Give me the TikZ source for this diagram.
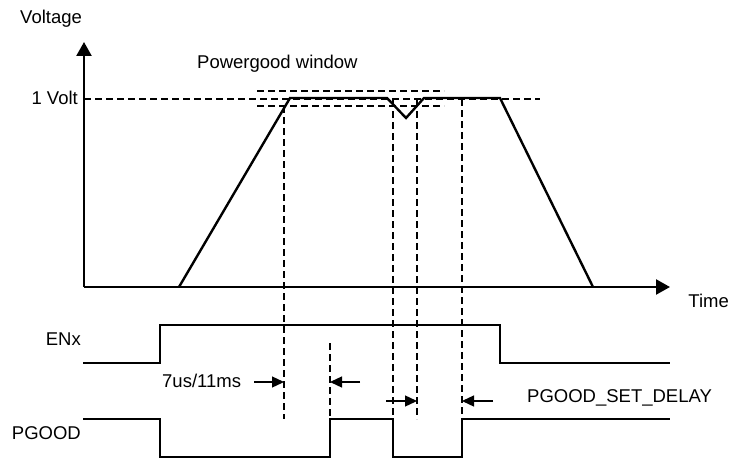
\documentclass[tikz,border=0pt]{standalone}
\usepackage{fontspec}
\setmainfont{Liberation Sans}
\usetikzlibrary{arrows.meta}
\begin{document}
\begin{tikzpicture}[x=1pt,y=-1pt,
  wave/.style={line width=2.4pt,line join=miter},
  axis/.style={line width=2.4pt,-{Triangle[length=14pt,width=15pt]}},
  guide/.style={line width=1.2pt,dash pattern=on 7pt off 4pt},
  tarrow/.style={line width=1.3pt,-{Triangle[length=12pt,width=11pt]}},
  lbl/.style={inner sep=0pt,font=\fontsize{18.5}{22}\selectfont}]
\useasboundingbox (0,0) rectangle (731,460);
% axes
\coordinate (O) at (84,287);
\coordinate (Ytip) at (84,42);
\coordinate (Xtip) at (670,287);
\draw[axis] (O) -- (Ytip);
\draw[axis] (O) -- (Xtip);
% labels
\node[lbl,anchor=base west] (voltage) at (20,24) {Voltage};
\node[lbl,anchor=base west] (pgw) at (197,69) {Powergood window};
\node[lbl,anchor=base east] (volt) at (78,104) {1 Volt};
\node[lbl,anchor=base east] (time) at (729,307) {Time};
\node[lbl,anchor=base east] (enx) at (81,345) {ENx};
\node[lbl,anchor=base east] (pgood) at (81,439) {PGOOD};
\node[lbl,anchor=base west] (t1) at (162,387) {7us/11ms};
\node[lbl,anchor=base west] (t2) at (527,402) {PGOOD\_SET\_DELAY};
% guide lines
\draw[guide] (84,99) -- (540,99);
\draw[guide] (257,91) -- (444,91);
\draw[guide] (257,106) -- (444,106);
\draw[guide] (284,106) -- (284,419);
\draw[guide] (330,343) -- (330,419);
\draw[guide] (393,100) -- (393,419);
\draw[guide] (417,100) -- (417,419);
\draw[guide] (462,99) -- (462,419);
% voltage waveform
\draw[wave] (179,287) -- (290,98) -- (387,98) -- (406,118) -- (424,98) -- (500,98) -- (593,287);
% ENx
\draw[wave] (83,363) -- (160,363) -- (160,325) -- (500,325) -- (500,363) -- (670,363);
% PGOOD
\draw[wave] (83,419) -- (160,419) -- (160,457) -- (330,457) -- (330,419) -- (393,419) -- (393,457) -- (462,457) -- (462,419) -- (670,419);
% timing arrows
\coordinate (a1s) at (254,382); \coordinate (a1e) at (284,382);
\coordinate (a2s) at (360,382); \coordinate (a2e) at (330,382);
\coordinate (a3s) at (386,401); \coordinate (a3e) at (417,401);
\coordinate (a4s) at (493,401); \coordinate (a4e) at (462,401);
\draw[tarrow] (a1s) -- (a1e);
\draw[tarrow] (a2s) -- (a2e);
\draw[tarrow] (a3s) -- (a3e);
\draw[tarrow] (a4s) -- (a4e);
\end{tikzpicture}
\end{document}
